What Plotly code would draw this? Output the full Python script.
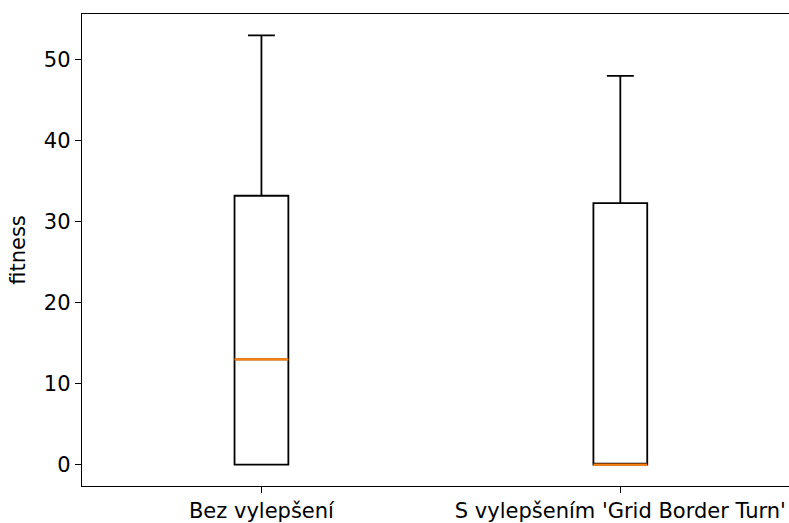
import plotly.graph_objects as go

# Summary statistics of fitness per variant
categories = ["Bez vylepšení", "S vylepšením 'Grid Border Turn'"]
positions = [1, 2]
lower_fence = [0, 0]
q1 = [0, 0]
median = [13, 0]
q3 = [33.2, 32.3]
upper_fence = [53, 48]

BOX_WIDTH = 0.15
FONT = "DejaVu Sans"
FS = 21

fig = go.Figure()

fig.add_trace(go.Box(
    x=positions,
    q1=q1,
    median=median,
    q3=q3,
    lowerfence=lower_fence,
    upperfence=upper_fence,
    width=BOX_WIDTH,
    fillcolor="rgba(0,0,0,0)",
    line=dict(color="black", width=1.8),
    whiskerwidth=0.5,
    boxpoints=False,
    showlegend=False,
    hoverinfo="skip",
))

# Orange median lines drawn over the boxes
for p, m in zip(positions, median):
    fig.add_trace(go.Scatter(
        x=[p - BOX_WIDTH / 2, p + BOX_WIDTH / 2],
        y=[m, m],
        mode="lines",
        line=dict(color="#ff7f0e", width=2.3),
        showlegend=False,
        hoverinfo="skip",
    ))

fig.update_layout(
    width=789,
    height=523,
    margin=dict(l=82, r=0, t=14, b=35),
    paper_bgcolor="white",
    plot_bgcolor="white",
    font=dict(family=FONT, size=FS, color="black"),
)

fig.update_xaxes(
    range=[0.5, 2.47],
    tickmode="array",
    tickvals=positions,
    ticktext=categories,
    showgrid=False,
    zeroline=False,
    showline=True,
    linecolor="black",
    linewidth=1.4,
    mirror=True,
    ticks="outside",
    ticklen=6,
    tickwidth=1.4,
    tickcolor="black",
    tickfont=dict(family=FONT, size=FS, color="black"),
)

fig.update_yaxes(
    range=[-2.65, 55.65],
    tickvals=[0, 10, 20, 30, 40, 50],
    showgrid=False,
    zeroline=False,
    showline=True,
    linecolor="black",
    linewidth=1.4,
    ticks="outside",
    ticklen=6,
    tickwidth=1.4,
    tickcolor="black",
    tickfont=dict(family=FONT, size=FS, color="black"),
    title=dict(text="fitness", font=dict(family=FONT, size=FS, color="black"), standoff=12),
)

fig.write_html("out.html")
